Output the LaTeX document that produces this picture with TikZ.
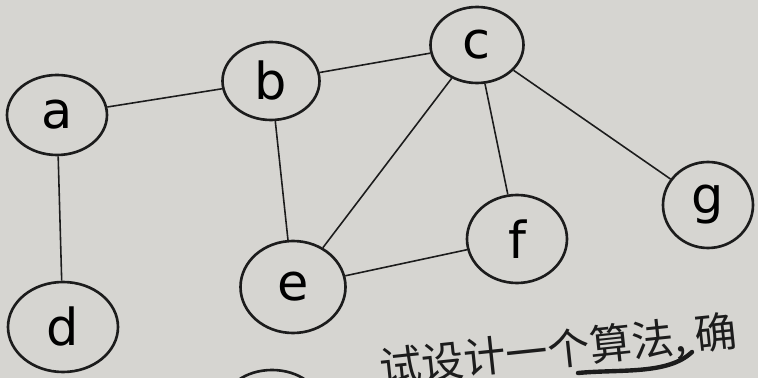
\documentclass[tikz,border=0pt]{standalone}
\usepackage{fontspec}
\setmainfont{DejaVu Sans}
\newfontfamily\cjk{Noto Sans CJK SC}
\usetikzlibrary{shapes.geometric}
\definecolor{paper}{HTML}{D6D5D1}
\definecolor{ink}{HTML}{1C1C1C}

\begin{document}
\begin{tikzpicture}[x=0.02cm,y=-0.02cm,
		vert/.style={ellipse,draw=ink,line width=1.5pt,inner sep=0pt,font=\fontsize{29}{29}\selectfont},
		link/.style={draw=ink,line width=0.9pt}]
		\newcommand{\vertex}[5]{\node[vert,minimum width=#4*0.02cm,minimum height=#5*0.02cm] (#1) at (#2,#3) {#1};}
		\newcommand{\link}[2]{\draw[link] (#1) -- (#2);}
		
		\clip (0,0) rectangle (758,378);
		\fill[paper] (0,0) rectangle (758,378);
		
		\vertex{a}{57}{115}{100}{80}
		\vertex{b}{271}{81}{97}{78}
		\vertex{c}{477}{45}{93}{76}
		\vertex{d}{63}{327}{110}{90}
		\vertex{e}{293}{287}{105}{92}
		\vertex{f}{517}{239}{100}{88}
		\vertex{g}{708}{205}{90}{86}
		
		\link{a}{b}
		\link{a}{d}
		\link{b}{c}
		\link{b}{e}
		\link{c}{e}
		\link{c}{f}
		\link{c}{g}
		\link{e}{f}
		
		% cut off at the bottom of the page
		\draw[ink,line width=1.5pt] (272,405) ellipse (48 and 35);
		\node[anchor=west,rotate=6,inner sep=0pt,text=ink,font=\cjk\fontsize{24}{24}\selectfont] (txt) at (380,370) {试设计一个算法, 确};
		\draw[ink,line width=2.5pt,line cap=round] (578,373) .. controls (620,369) and (668,375) .. (692,352);
	\end{tikzpicture}
\end{document}
